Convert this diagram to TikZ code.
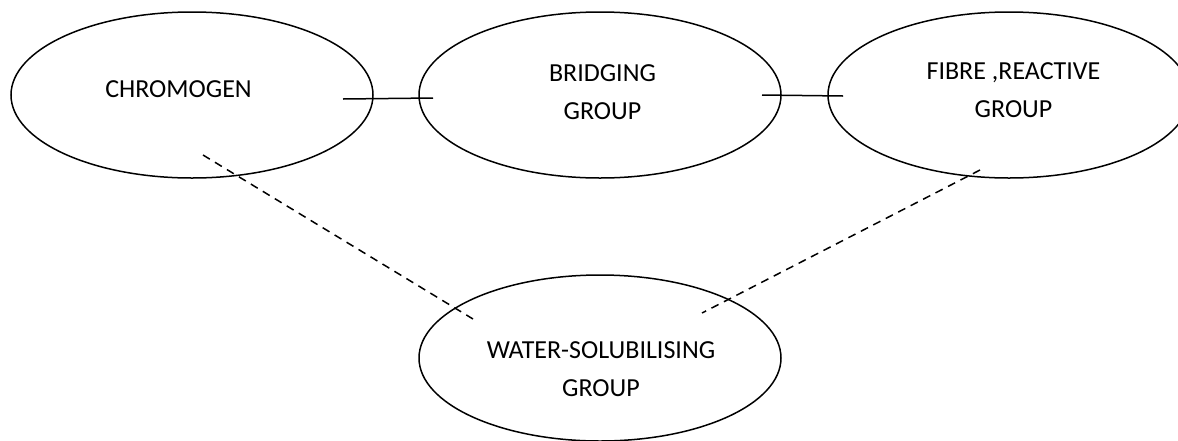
\documentclass[tikz,border=0pt]{standalone}
\usepackage{fontspec}
\setmainfont{Carlito}
\usetikzlibrary{shapes.geometric}
\begin{document}
\begin{tikzpicture}[x=1pt,y=1pt,yscale=-1,
  blob/.style={draw,ellipse,line width=1.5pt,minimum width=362pt,minimum height=166pt,inner sep=0pt},
  lbl/.style={anchor=north,inner sep=0pt,align=center,font=\fontsize{26}{38}\selectfont},
  link/.style={line width=1.5pt},
  dashlink/.style={line width=1.5pt,dash pattern=on 8pt off 6pt}]
\useasboundingbox (0,0) rectangle (1178,440);

% the four groups
\node [blob] (chromogen) at (192,95) {};
\node [blob] (bridging) at (600,95) {};
\node [blob] (fibre) at (1009,95) {};
\node [blob] (water) at (600,358) {};

\node [lbl] (chromogen text) at (178.5,80) {CHROMOGEN};
\node [lbl] (bridging text) at (602.5,64.5) {BRIDGING\\GROUP};
\node [lbl] (fibre text) at (1013.5,62.5) {FIBRE ,REACTIVE\\GROUP};
\node [lbl] (water text) at (601,341.5) {WATER-SOLUBILISING\\GROUP};

% line ends
\coordinate (c1) at (343,99);
\coordinate (b1) at (433,98);
\coordinate (b2) at (762,95);
\coordinate (f1) at (843,96);
\coordinate (c2) at (203,155);
\coordinate (w1) at (473,319);
\coordinate (f2) at (980,170);
\coordinate (w2) at (702,313);

\draw [link] (c1) -- (b1);
\draw [link] (b2) -- (f1);
\draw [dashlink] (c2) -- (w1);
\draw [dashlink] (f2) -- (w2);

\end{tikzpicture}
\end{document}
